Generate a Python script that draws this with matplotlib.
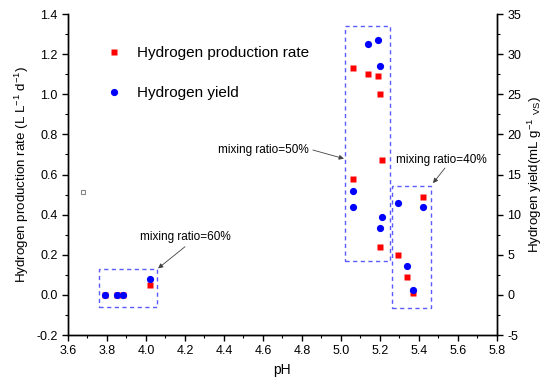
import matplotlib
matplotlib.use("Agg")
import matplotlib.pyplot as plt
from matplotlib.ticker import MultipleLocator
from matplotlib.patches import Rectangle

plt.rcParams['font.family'] = ['Liberation Sans', 'DejaVu Sans']
plt.rcParams['axes.unicode_minus'] = False
plt.rcParams['mathtext.fontset'] = 'custom'
plt.rcParams['mathtext.rm'] = 'Liberation Sans'
plt.rcParams['mathtext.it'] = 'Liberation Sans'

# hydrogen production rate (L L-1 d-1) vs pH
ph_rate = [3.79, 3.85, 3.88, 4.02, 5.06, 5.14, 5.19, 5.20, 5.21, 5.06, 5.42, 5.20, 5.29, 5.34, 5.37]
rate = [0.0, 0.0, 0.0, 0.05, 1.13, 1.10, 1.09, 1.00, 0.67, 0.58, 0.49, 0.24, 0.20, 0.09, 0.01]

# hydrogen yield (mL g-1 VS) vs pH
ph_yield = [3.79, 3.85, 3.88, 4.02, 5.14, 5.19, 5.20, 5.06, 5.06, 5.21, 5.20, 5.29, 5.42, 5.34, 5.37]
yield_vs = [0.0, 0.0, 0.0, 2.0, 31.2, 31.7, 28.5, 12.9, 10.95, 9.7, 8.3, 11.4, 11.0, 3.6, 0.6]

# dashed groups: (x0, x1, y0, y1) on rate axis
groups = [(3.757, 4.058, -0.061, 0.129), (5.02, 5.25, 0.169, 1.339), (5.262, 5.463, -0.066, 0.544)]
group_labels = ["mixing ratio=60%", "mixing ratio=50%", "mixing ratio=40%"]
label_pos = [(4.20, 0.29), (4.60, 0.722), (5.517, 0.672)]
arrow_from = [(4.20, 0.24), (4.856, 0.722), (5.533, 0.632)]
arrow_to = [(4.062, 0.132), (5.015, 0.679), (5.472, 0.557)]

fig = plt.figure(figsize=(5.5, 3.89), dpi=100)
ax = fig.add_axes([0.1236, 0.1388, 0.78, 0.8252])
ax2 = ax.twinx()

h1, = ax.plot(ph_rate, rate, 's', color='#ff0000', ms=4.6, mec='none',
              label='Hydrogen production rate')
ax.plot([3.677], [0.513], 's', mfc='none', mec='#888888', ms=2.5, mew=0.8)
h2, = ax2.plot(ph_yield, yield_vs, 'o', color='#0000ff', ms=5.2, mec='none',
               label='Hydrogen yield')

for (x0, x1, y0, y1) in groups:
    ax.add_patch(Rectangle((x0, y0), x1 - x0, y1 - y0, fill=False,
                           ec='#5a5aff', lw=1.0, ls=(0, (3, 2.5))))

for lab, pos, a0, a1 in zip(group_labels, label_pos, arrow_from, arrow_to):
    ax.text(pos[0], pos[1], lab, ha='center', va='center', fontsize=8.5)
    ax.annotate('', xy=a1, xytext=a0,
                arrowprops=dict(arrowstyle='-|>', color='#404040', lw=0.6,
                                mutation_scale=7, shrinkA=0, shrinkB=0))

ax.set_xlim(3.6, 5.8)
ax.set_ylim(-0.2, 1.4)
ax2.set_ylim(-5, 35)
ax.xaxis.set_major_locator(MultipleLocator(0.2))
ax.xaxis.set_minor_locator(MultipleLocator(0.1))
ax.yaxis.set_major_locator(MultipleLocator(0.2))
ax.yaxis.set_minor_locator(MultipleLocator(0.1))
ax2.yaxis.set_major_locator(MultipleLocator(5))
ax2.yaxis.set_minor_locator(MultipleLocator(2.5))

for a in (ax, ax2):
    a.spines['top'].set_visible(False)
    for s in a.spines.values():
        s.set_linewidth(1.0)
    a.tick_params(which='major', length=4, width=1.0, labelsize=9, direction='out')
    a.tick_params(which='minor', length=2.5, width=0.8, direction='out')

ax.set_xticklabels([f"{v:.1f}" for v in ax.get_xticks()])
ax.set_xlabel('pH', fontsize=10)
ax.set_ylabel('Hydrogen production rate (L L$^{-1}$ d$^{-1}$)', fontsize=9.6, labelpad=4)
ax2.set_ylabel('Hydrogen yield(mL g$^{-1}$ $_{\\mathrm{VS}}$)', fontsize=9.6, labelpad=3)

ax2.legend(handles=[h1, h2], loc='upper left', bbox_to_anchor=(0.0895, 0.900),
           frameon=False, fontsize=11, handlelength=1.0, handletextpad=1.0,
           labelspacing=1.7, borderpad=0, borderaxespad=0)

fig.savefig('out.png', dpi=100)
